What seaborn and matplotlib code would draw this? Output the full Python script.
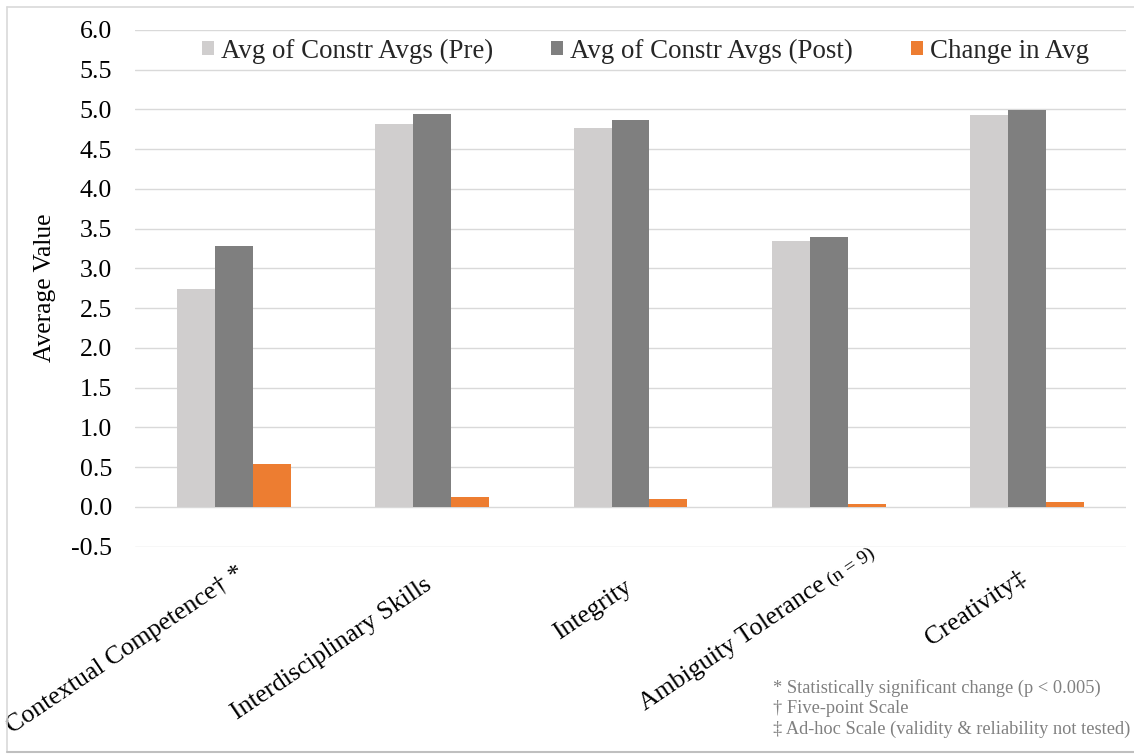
import matplotlib
matplotlib.use("Agg")
import matplotlib.pyplot as plt
from matplotlib.lines import Line2D
from matplotlib.transforms import ScaledTranslation, blended_transform_factory
import numpy as np
import pandas as pd
import seaborn as sns

# ---- data ----
constructs = [
    "Contextual Competence† *",
    "Interdisciplinary Skills",
    "Integrity",
    "Ambiguity Tolerance",
    "Creativity‡",
]
construct_notes = ["", "", "", "(n = 9)", ""]
series_names = [
    "Avg of Constr Avgs (Pre)",
    "Avg of Constr Avgs (Post)",
    "Change in Avg",
]
pre_avg = [2.74, 4.82, 4.77, 3.35, 4.93]
post_avg = [3.28, 4.94, 4.87, 3.39, 4.99]
change_avg = [0.54, 0.12, 0.10, 0.04, 0.06]
y_ticks = [-0.5, 0.0, 0.5, 1.0, 1.5, 2.0, 2.5, 3.0, 3.5, 4.0, 4.5, 5.0, 5.5, 6.0]
footnotes = [
    "* Statistically significant change (p < 0.005)",
    "† Five-point Scale",
    "‡ Ad-hoc Scale (validity & reliability not tested)",
]

series_colors = ["#d0cece", "#7f7f7f", "#ed7d31"]

df = pd.DataFrame({
    "construct": constructs * 3,
    "series": np.repeat(series_names, len(constructs)),
    "value": pre_avg + post_avg + change_avg,
})

# ---- style ----
sns.set_theme(style="white")
plt.rcParams["font.family"] = ["Liberation Serif", "DejaVu Serif"]
plt.rcParams["axes.unicode_minus"] = False

W, H = 1134, 754
fig = plt.figure(figsize=(W / 100, H / 100), dpi=100)
ax_left, ax_right, ax_top, ax_bottom = 135, 1126, 30, 546.5
ax = fig.add_axes([ax_left / W, (H - ax_bottom) / H,
                   (ax_right - ax_left) / W, (ax_bottom - ax_top) / H])

sns.barplot(
    data=df, x="construct", y="value", hue="series",
    order=constructs, hue_order=series_names,
    palette=series_colors, saturation=1, width=0.575,
    errorbar=None, linewidth=0, ax=ax,
)

ax.set_ylim(-0.5, 6.0)
ax.set_xlim(-0.5, 4.5)
ax.set_yticks(y_ticks)
ax.set_yticklabels([f"{t:.1f}" for t in y_ticks])
ax.yaxis.grid(True, color="#d9d9d9", linewidth=1.0)
ax.xaxis.grid(False)
ax.set_axisbelow(True)
for s in ax.spines.values():
    s.set_visible(False)
ax.tick_params(axis="y", length=0, pad=16.5, labelsize=18.6, labelcolor="black")
ax.set_xticks([])
ax.set_xlabel("")
ax.set_ylabel("")

# category labels, rotated, each ending just below its group
angle = 34
label_end_px = [(12, 576.5), (1, 588), (2.5, 590), (-1, 588), (1, 581)]
base = blended_transform_factory(ax.transData, ax.transAxes)
ux, uy = np.cos(np.radians(angle)), np.sin(np.radians(angle))
for i, (name, note) in enumerate(zip(constructs, construct_notes)):
    dx, ypix = label_end_px[i]
    tr = base + ScaledTranslation(dx / 100, -(ypix - ax_bottom) / 100,
                                  fig.dpi_scale_trans)
    ax.text(i, 0, name, transform=tr, rotation=angle,
            rotation_mode="anchor", ha="right", va="baseline",
            fontsize=18.6, color="black", clip_on=False)
    if note:
        gap = 5
        tr2 = base + ScaledTranslation((dx + gap * ux) / 100,
                                       (-(ypix - ax_bottom) + gap * uy) / 100,
                                       fig.dpi_scale_trans)
        ax.text(i, 0, note, transform=tr2, rotation=angle,
                rotation_mode="anchor", ha="left", va="baseline",
                fontsize=14, color="black", clip_on=False)

# y-axis title
fig.text(45 / W, 1 - 288 / H, "Average Value", rotation=90,
         ha="center", va="center", fontsize=18.4, color="black")

# legend across the top of the plot area
handles, labels = ax.get_legend_handles_labels()
legend_cx = (645.5 - ax_left) / (ax_right - ax_left)
ax.legend(handles, labels, loc="center", bbox_to_anchor=(legend_cx, 0.959),
          ncol=3, frameon=False, fontsize=19.4, handlelength=0.45,
          handleheight=0.45, handletextpad=0.27, columnspacing=2.15,
          borderaxespad=0, borderpad=0)

# notes below the chart
for k, note in enumerate(footnotes):
    fig.text(773 / W, 1 - (692.7 + 20.5 * k) / H, note, fontsize=13.2,
             color="#808080", ha="left", va="baseline")

# chart frame
frame = "#d9d9d9"
fig.add_artist(Line2D([7 / W, 7 / W], [1 - 7 / H, 1 - 751.5 / H],
                      transform=fig.transFigure, color=frame, lw=1.2))
fig.add_artist(Line2D([7 / W, 1.0], [1 - 7 / H, 1 - 7 / H],
                      transform=fig.transFigure, color=frame, lw=1.2))
fig.add_artist(Line2D([7 / W, 1.0], [1 - 751.5 / H, 1 - 751.5 / H],
                      transform=fig.transFigure, color="#bfbfbf", lw=1.5))

fig.savefig("out.png", dpi=100, facecolor="white")
